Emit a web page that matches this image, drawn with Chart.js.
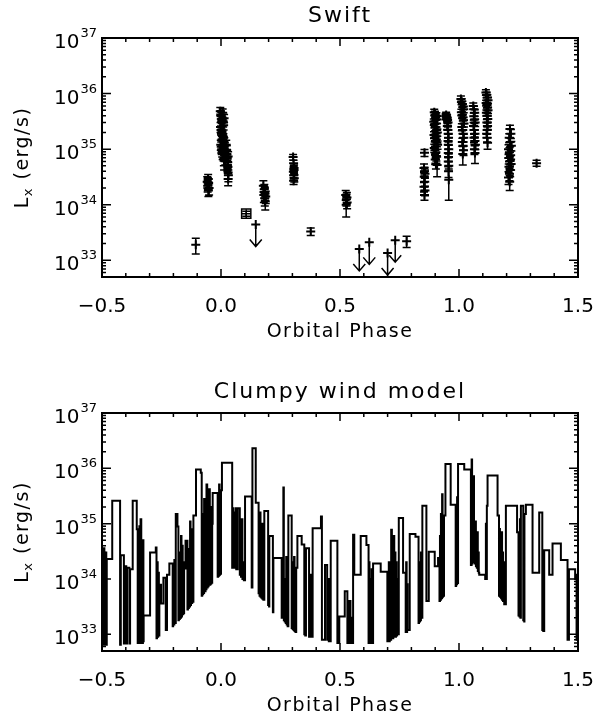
<!DOCTYPE html>
<html>
<head>
<meta charset="utf-8">
<script src="https://cdn.jsdelivr.net/npm/chart.js@4.4.1/dist/chart.umd.min.js"></script>
<style>
html, body { margin: 0; padding: 0; background: #fff; }
#wrap { position: relative; width: 596px; height: 717px; }
.panel { position: absolute; left: 0; width: 596px; }
</style>
</head>
<body>
<div id="wrap">
  <div class="panel" style="top:0;height:345px"><canvas id="swiftChart"></canvas></div>
  <div class="panel" style="top:345px;height:372px"><canvas id="modelChart"></canvas></div>
</div>
<script>
// axis ticks
var phaseTicks = [-0.5, 0.0, 0.5, 1.0, 1.5];
var lxTicks = [1e33, 1e34, 1e35, 1e36, 1e37];

// Swift detections: orbital phase, Lx (erg/s), 1-sigma error
var swiftPhase = [
  -0.106,
  -0.058, -0.056, -0.054, -0.052, -0.050, -0.055, -0.053,
  -0.003, -0.001, 0.001, 0.003, 0.005, 0.007, 0.009, 0.011, 0.013, -0.002, 0.000, 0.002, 0.004, 0.006, 0.008, 0.010,
  0.012, 0.014, -0.001, 0.001, 0.003, 0.005, 0.007, 0.009, 0.011, 0.013, 0.015, 0.014, 0.016, 0.018, 0.012, 0.013,
  0.022, 0.024, 0.025, 0.026, 0.028, 0.030, 0.027, 0.029, 0.030, 0.031, 0.030,
  0.178, 0.182, 0.185, 0.188, 0.184, 0.180, 0.186, 0.183,
  0.303, 0.305, 0.307, 0.304, 0.306, 0.308, 0.305, 0.307,
  0.377,
  0.524, 0.527, 0.530, 0.529, 0.526,
  0.780,
  0.855, 0.853, 0.855, 0.857, 0.854, 0.856, 0.853, 0.857, 0.855,
  0.896, 0.899, 0.902, 0.905, 0.908, 0.894, 0.897, 0.900, 0.903, 0.906, 0.909, 0.895,
  0.898, 0.901, 0.904, 0.907, 0.910, 0.896, 0.899, 0.902, 0.905, 0.900, 0.903, 0.908,
  0.944, 0.946, 0.948, 0.950, 0.952, 0.954, 0.951, 0.953, 0.955, 0.956,
  0.954, 0.955, 0.957, 0.955, 0.956, 0.955, 0.957, 0.956, 0.957,
  1.008, 1.011, 1.014, 1.017, 1.020, 1.010, 1.013, 1.016, 1.019,
  1.021, 1.012, 1.015, 1.018, 1.020, 1.014, 1.017, 1.019, 1.016,
  1.060, 1.063, 1.066, 1.062, 1.065, 1.068, 1.061, 1.064, 1.067, 1.063, 1.066, 1.069, 1.065, 1.067,
  1.113, 1.116, 1.119, 1.122, 1.114, 1.117, 1.120, 1.122, 1.115, 1.118, 1.121, 1.117, 1.120, 1.119, 1.116, 1.118, 1.120,
  1.214, 1.218, 1.211, 1.215, 1.220, 1.208, 1.212, 1.217, 1.209, 1.214, 1.219, 1.210, 1.215, 1.212, 1.208, 1.213,
  1.326
];
var swiftLx = [
  1.9e33,
  2.6e34, 2.2e34, 2.9e34, 2.4e34, 2.0e34, 2.5e34, 1.8e34,
  4.8e35, 4.2e35, 3.9e35, 3.5e35, 3.2e35, 4.5e35, 3.0e35, 2.7e35, 3.6e35, 2.5e35, 2.2e35, 1.9e35, 2.1e35, 1.7e35, 1.5e35, 1.6e35,
  1.4e35, 1.3e35, 1.2e35, 1.1e35, 1.0e35, 9.2e34, 8.5e34, 1.2e35, 1.0e35, 9.0e34, 7.8e34, 1.1e35, 8.2e34, 7.0e34, 6.8e34, 6.2e34,
  1.2e35, 9.5e34, 8.0e34, 6.8e34, 5.8e34, 7.4e34, 5.2e34, 4.8e34, 3.8e34, 3.4e34, 2.9e34,
  2.2e34, 1.9e34, 1.6e34, 1.4e34, 1.3e34, 1.5e34, 1.15e34, 1.7e34,
  7.2e34, 5.6e34, 4.6e34, 3.9e34, 3.4e34, 3.0e34, 2.7e34, 4.2e34,
  3.3e33,
  1.5e34, 1.25e34, 1.1e34, 1.35e34, 1.0e34,
  2.2e33,
  8.6e34, 4.6e34, 4.0e34, 3.6e34, 3.2e34, 2.6e34, 2.1e34, 1.8e34, 1.5e34,
  4.6e35, 4.2e35, 3.8e35, 4.0e35, 3.4e35, 3.1e35, 2.8e35, 2.5e35, 2.9e35, 2.2e35, 2.0e35, 1.8e35,
  1.6e35, 1.4e35, 1.7e35, 1.3e35, 1.2e35, 1.05e35, 9.5e34, 8.5e34, 7.5e34, 6.5e34, 5.5e34, 5.2e34,
  3.9e35, 4.1e35, 3.8e35, 3.6e35, 3.3e35, 3.0e35, 2.6e35, 2.2e35, 1.9e35, 1.6e35,
  1.4e35, 1.2e35, 1.0e35, 8.5e34, 7.2e34, 6.0e34, 5.0e34, 4.0e34, 2.8e34,
  8.0e35, 7.2e35, 6.5e35, 5.8e35, 5.2e35, 4.6e35, 4.1e35, 3.7e35, 3.3e35,
  2.9e35, 2.5e35, 2.2e35, 1.9e35, 1.6e35, 1.35e35, 1.15e35, 9.5e34, 8.2e34,
  6.0e35, 5.2e35, 4.5e35, 3.9e35, 3.4e35, 3.0e35, 2.6e35, 2.2e35, 1.9e35, 1.6e35, 1.4e35, 1.2e35, 1.0e35, 8.5e34,
  1.05e36, 9.5e35, 8.5e35, 7.6e35, 6.8e35, 6.2e35, 5.6e35, 5.0e35, 4.5e35, 4.0e35, 3.5e35, 3.0e35, 2.6e35, 2.2e35, 1.9e35, 1.6e35, 1.3e35,
  2.3e35, 1.9e35, 1.6e35, 1.35e35, 1.15e35, 1.0e35, 8.8e34, 7.8e34, 6.9e34, 6.1e34, 5.4e34, 4.8e34, 4.2e34, 3.6e34, 3.1e34, 2.6e34,
  5.6e34
];
var swiftErr = [
  0.6e33,
  0.6e34, 0.5e34, 0.6e34, 0.5e34, 0.5e34, 0.6e34, 0.4e34,
  0.8e35, 0.7e35, 0.7e35, 0.6e35, 0.6e35, 0.8e35, 0.5e35, 0.5e35, 0.6e35, 0.5e35, 0.4e35, 0.4e35, 0.4e35, 0.3e35, 0.3e35, 0.3e35,
  0.3e35, 0.3e35, 0.25e35, 0.25e35, 0.2e35, 0.2e35, 0.2e35, 0.25e35, 0.2e35, 0.2e35, 0.18e35, 0.22e35, 0.2e35, 0.18e35, 0.18e35, 0.2e35,
  0.25e35, 0.2e35, 0.18e35, 0.15e35, 0.13e35, 0.16e35, 0.12e35, 0.11e35, 0.09e35, 0.08e35, 0.07e35,
  0.5e34, 0.4e34, 0.4e34, 0.35e34, 0.35e34, 0.4e34, 0.35e34, 0.4e34,
  0.8e34, 0.7e34, 0.6e34, 0.5e34, 0.5e34, 0.45e34, 0.4e34, 0.5e34,
  0.5e33,
  0.3e34, 0.3e34, 0.25e34, 0.3e34, 0.4e34,
  0.5e33,
  1.2e34, 0.8e34, 0.7e34, 0.6e34, 0.6e34, 0.5e34, 0.4e34, 0.35e34, 0.3e34,
  0.6e35, 0.6e35, 0.5e35, 0.5e35, 0.5e35, 0.4e35, 0.4e35, 0.35e35, 0.4e35, 0.3e35, 0.3e35, 0.25e35,
  0.25e35, 0.2e35, 0.25e35, 0.2e35, 0.2e35, 0.18e35, 0.16e35, 0.15e35, 0.14e35, 0.12e35, 0.11e35, 0.2e35,
  0.5e35, 0.5e35, 0.5e35, 0.5e35, 0.45e35, 0.4e35, 0.35e35, 0.3e35, 0.3e35, 0.25e35,
  0.2e35, 0.2e35, 0.18e35, 0.15e35, 0.13e35, 0.12e35, 0.1e35, 0.09e35, 1.6e34,
  1.0e35, 0.9e35, 0.8e35, 0.7e35, 0.7e35, 0.6e35, 0.55e35, 0.5e35, 0.45e35,
  0.4e35, 0.35e35, 0.3e35, 0.3e35, 0.25e35, 0.22e35, 0.2e35, 0.18e35, 0.3e35,
  0.8e35, 0.7e35, 0.6e35, 0.55e35, 0.5e35, 0.45e35, 0.4e35, 0.35e35, 0.3e35, 0.3e35, 0.25e35, 0.22e35, 0.2e35, 0.3e35,
  1.2e35, 1.1e35, 1.0e35, 0.9e35, 0.8e35, 0.7e35, 0.7e35, 0.6e35, 0.55e35, 0.5e35, 0.45e35, 0.4e35, 0.35e35, 0.3e35, 0.3e35, 0.25e35, 0.3e35,
  0.4e35, 0.35e35, 0.3e35, 0.25e35, 0.22e35, 0.2e35, 0.18e35, 0.16e35, 0.15e35, 0.13e35, 0.12e35, 0.11e35, 0.1e35, 0.09e35, 0.08e35, 0.08e35,
  0.7e34
];

// Swift upper limits
var limitPhase = [0.146, 0.581, 0.623, 0.700, 0.732];
var limitLx = [4.4e33, 1.6e33, 2.1e33, 1.35e33, 2.3e33];

// the single boxed point
var boxPhase = [0.106];
var boxLx = [6.9e33];
var boxErr = [0.7e33];

// clumpy wind model light curve (each value holds until the next phase)
var modelPhase = [
  -0.500, -0.498, -0.496, -0.494, -0.492, -0.490, -0.488, -0.486, -0.484, -0.482,
  -0.480, -0.457, -0.424, -0.421, -0.408, -0.405, -0.398, -0.395, -0.385, -0.382,
  -0.371, -0.354, -0.350, -0.348, -0.345, -0.343, -0.340, -0.338, -0.335, -0.333,
  -0.330, -0.328, -0.326, -0.325, -0.298, -0.274, -0.271, -0.269, -0.266, -0.264,
  -0.261, -0.259, -0.252, -0.242, -0.232, -0.230, -0.228, -0.227, -0.217, -0.203,
  -0.201, -0.198, -0.196, -0.193, -0.190, -0.183, -0.179, -0.177, -0.175, -0.173,
  -0.171, -0.168, -0.166, -0.164, -0.161, -0.159, -0.157, -0.155, -0.149, -0.141,
  -0.139, -0.137, -0.135, -0.132, -0.130, -0.128, -0.126, -0.123, -0.121, -0.119,
  -0.116, -0.105, -0.085, -0.081, -0.079, -0.077, -0.075, -0.073, -0.071, -0.067,
  -0.065, -0.063, -0.061, -0.058, -0.056, -0.054, -0.052, -0.047, -0.045, -0.043,
  -0.041, -0.039, -0.037, -0.035, -0.014, -0.012, -0.010, -0.008, -0.006, -0.004,
  -0.002, 0.000, 0.004, 0.047, 0.049, 0.051, 0.053, 0.055, 0.057, 0.059,
  0.061, 0.064, 0.066, 0.068, 0.070, 0.079, 0.082, 0.084, 0.087, 0.090,
  0.093, 0.096, 0.101, 0.129, 0.132, 0.146, 0.158, 0.160, 0.162, 0.164,
  0.166, 0.168, 0.170, 0.172, 0.174, 0.176, 0.178, 0.182, 0.198, 0.200,
  0.202, 0.203, 0.218, 0.220, 0.255, 0.260, 0.262, 0.264, 0.266, 0.268,
  0.270, 0.272, 0.274, 0.276, 0.278, 0.280, 0.283, 0.297, 0.299, 0.301,
  0.303, 0.305, 0.307, 0.309, 0.311, 0.313, 0.316, 0.321, 0.339, 0.350,
  0.352, 0.354, 0.357, 0.370, 0.374, 0.379, 0.385, 0.420, 0.424, 0.437,
  0.446, 0.450, 0.453, 0.461, 0.489, 0.497, 0.520, 0.531, 0.533, 0.535,
  0.537, 0.544, 0.546, 0.549, 0.555, 0.560, 0.587, 0.611, 0.620, 0.622,
  0.624, 0.627, 0.630, 0.633, 0.636, 0.639, 0.671, 0.699, 0.701, 0.703,
  0.705, 0.707, 0.709, 0.711, 0.715, 0.718, 0.720, 0.722, 0.724, 0.728,
  0.730, 0.733, 0.735, 0.738, 0.740, 0.742, 0.747, 0.765, 0.776, 0.778,
  0.780, 0.782, 0.784, 0.787, 0.793, 0.817, 0.830, 0.832, 0.834, 0.836,
  0.838, 0.840, 0.843, 0.846, 0.863, 0.873, 0.898, 0.912, 0.918, 0.920,
  0.922, 0.924, 0.926, 0.929, 0.931, 0.933, 0.935, 0.937, 0.943, 0.965,
  0.986, 0.988, 0.990, 0.992, 0.994, 0.996, 1.022, 1.050, 1.053, 1.055,
  1.057, 1.059, 1.061, 1.063, 1.065, 1.067, 1.069, 1.071, 1.073, 1.075,
  1.077, 1.079, 1.081, 1.083, 1.085, 1.110, 1.113, 1.115, 1.117, 1.120,
  1.162, 1.168, 1.170, 1.172, 1.175, 1.177, 1.179, 1.181, 1.183, 1.185,
  1.187, 1.190, 1.197, 1.244, 1.250, 1.252, 1.254, 1.256, 1.258, 1.260,
  1.270, 1.272, 1.274, 1.275, 1.281, 1.309, 1.337, 1.350, 1.352, 1.354,
  1.358, 1.379, 1.393, 1.428, 1.456, 1.458, 1.460, 1.462, 1.470, 1.488,
  1.494, 1.496, 1.500
];
var modelLx = [
  3.5e34, 6.5e32, 2.5e34, 6.5e32, 3.6e34, 6.5e32, 1.8e34, 6.5e32, 3.0e34, 6.5e32,
  2.3e34, 2.6e35, 6.5e32, 2.7e34, 6.8e32, 1.7e34, 6.8e32, 1.6e34, 6.8e32, 1.5e34,
  2.6e35, 7.9e34, 7.0e32, 4.0e34, 7.0e32, 9.0e34, 7.0e32, 1.2e35, 7.0e32, 2.0e34,
  7.0e32, 5.0e34, 7.5e32, 2.2e33, 3.0e34, 3.7e34, 8.5e32, 2.0e34, 9.0e32, 1.3e34,
  9.5e32, 7.9e33, 3.6e33, 1.05e34, 1.2e33, 8.0e33, 1.2e33, 1.2e34, 1.9e34, 1.4e33,
  1.3e34, 1.5e33, 2.2e34, 1.6e33, 1.5e35, 8.9e34, 1.8e33, 3.0e34, 1.9e33, 2.5e34,
  2.0e33, 6.0e34, 2.1e33, 4.0e34, 2.3e33, 2.0e34, 2.4e33, 1.55e34, 4.9e34, 2.8e33,
  3.5e34, 3.0e33, 2.0e34, 3.2e33, 1.1e35, 3.4e33, 7.9e34, 3.7e33, 4.0e34, 3.9e33,
  1.4e35, 9.5e35, 8.3e35, 5.0e33, 1.5e35, 5.3e33, 6.0e34, 5.6e33, 2.8e35, 6.0e33,
  1.6e35, 6.5e33, 5.1e35, 7.0e33, 2.5e35, 7.4e33, 4.2e35, 7.9e33, 1.2e35, 8.2e33,
  2.0e35, 8.6e33, 1.0e35, 3.6e35, 1.1e34, 2.5e35, 1.15e34, 5.1e35, 1.2e34, 3.0e35,
  1.25e34, 4.0e35, 1.26e36, 1.6e34, 1.9e35, 1.6e34, 1.2e35, 1.6e34, 1.6e35, 1.6e34,
  1.9e35, 1.5e34, 8.0e34, 1.5e34, 1.9e35, 1.2e34, 4.0e34, 1.1e34, 1.2e35, 1.0e34,
  2.0e34, 9.5e33, 3.1e35, 7.0e33, 2.3e36, 2.4e35, 5.5e33, 6.0e34, 5.0e33, 1.6e35,
  4.8e33, 2.0e34, 4.6e33, 1.0e35, 4.4e33, 3.0e34, 4.2e33, 1.7e35, 3.4e33, 2.0e34,
  3.2e33, 6.0e34, 2.5e33, 2.4e34, 2.0e33, 8.0e33, 4.5e35, 1.8e33, 1.0e34, 1.7e33,
  5.0e33, 1.6e33, 2.5e34, 1.5e33, 1.2e34, 1.4e33, 1.4e35, 1.3e33, 2.0e34, 1.25e33,
  1.0e34, 1.2e33, 2.5e34, 1.15e33, 1.5e34, 1.1e33, 1.6e34, 6.0e34, 4.2e34, 1.0e33,
  2.0e34, 9.5e32, 3.6e34, 9.0e32, 1.2e34, 9.0e32, 8.3e34, 1.35e35, 8.0e32, 1.8e34,
  8.0e32, 1.0e34, 7.5e32, 4.9e34, 7.0e32, 2.1e33, 6.0e33, 7.0e32, 3.0e33, 7.0e32,
  4.0e33, 7.0e32, 2.0e33, 7.0e32, 6.3e34, 1.2e34, 6.0e34, 4.1e34, 7.0e32, 2.0e34,
  7.0e32, 1.0e34, 7.0e32, 1.5e34, 7.0e32, 1.9e34, 1.35e34, 7.5e32, 5.0e33, 7.5e32,
  2.0e34, 7.5e32, 1.0e34, 8.0e32, 7.8e34, 8.5e32, 4.0e34, 8.5e32, 6.0e34, 9.0e32,
  3.0e34, 9.0e32, 2.0e34, 9.5e32, 1.0e34, 1.0e33, 1.26e35, 1.3e34, 1.1e33, 2.0e34,
  1.1e33, 8.0e33, 1.2e33, 1.2e33, 6.5e34, 5.8e34, 1.6e33, 2.0e34, 1.7e33, 1.0e34,
  1.8e33, 3.0e34, 2.0e33, 2.1e35, 4.0e33, 3.1e34, 1.7e34, 2.4e34, 4.0e33, 6.0e34,
  4.2e33, 1.5e35, 4.5e33, 3.4e35, 4.8e33, 1.0e35, 5.0e33, 1.4e35, 1.2e36, 2.2e35,
  7.5e33, 1.0e35, 8.0e33, 3.0e35, 8.5e33, 1.2e36, 9.5e35, 1.8e34, 1.45e36, 1.9e34,
  2.0e35, 2.0e34, 7.2e35, 2.0e34, 1.0e35, 1.9e34, 1.1e35, 1.7e34, 6.0e34, 1.6e34,
  7.0e34, 1.4e34, 3.0e34, 1.3e34, 1.2e34, 1.0e34, 1.0e35, 1.0e34, 2.1e35, 7.4e35,
  1.4e35, 5.0e33, 8.0e34, 4.8e33, 5.0e34, 4.5e33, 7.0e34, 4.2e33, 3.0e34, 4.0e33,
  2.0e34, 3.5e33, 2.1e35, 7.0e34, 2.2e33, 4.0e34, 2.1e33, 1.2e35, 2.0e33, 2.1e35,
  1.8e33, 6.0e34, 1.7e33, 1.5e35, 2.2e35, 1.3e34, 1.6e35, 1.2e33, 3.0e34, 1.15e33,
  3.3e34, 1.2e34, 4.4e34, 2.2e34, 8.0e32, 1.0e34, 8.0e32, 1.5e34, 1.5e34, 1.0e34,
  8.0e32, 1.2e34, 1.2e34
];

var FONT = '"DejaVu Sans", sans-serif';

function phaseLabel(v) {
    var s = Math.abs(v).toFixed(1);
    return v < 0 ? '\u2212' + s : s;
}

function points(xs, ys) {
    return xs.map(function (x, i) { return { x: x, y: ys[i] }; });
}

// IDL style frame: inward ticks on all sides, labels, titles
var idlAxes = {
    id: 'idlAxes',
    afterDraw: function (chart, args, opts) {
        var ctx = chart.ctx;
        var a = chart.chartArea;
        var xs = chart.scales.x;
        var ys = chart.scales.y;
        ctx.save();
        ctx.strokeStyle = '#000';
        ctx.fillStyle = '#000';

        ctx.lineWidth = 1.5;
        ctx.beginPath();
        for (var i = -5; i <= 15; i++) {
            var px = xs.getPixelForValue(i / 10);
            var len = (i % 5 === 0) ? 8 : 4;
            ctx.moveTo(px, a.bottom); ctx.lineTo(px, a.bottom - len);
            ctx.moveTo(px, a.top); ctx.lineTo(px, a.top + len);
        }
        lxTicks.forEach(function (dec) {
            for (var m = 1; m <= 9; m++) {
                var v = dec / 10 * m;
                if (v < ys.min || v > ys.max) continue;
                var py = ys.getPixelForValue(v);
                var l = m === 1 ? 9 : 4;
                ctx.moveTo(a.left, py); ctx.lineTo(a.left + l, py);
                ctx.moveTo(a.right, py); ctx.lineTo(a.right - l, py);
            }
        });
        var py37 = ys.getPixelForValue(1e37);
        ctx.moveTo(a.left, py37); ctx.lineTo(a.left + 9, py37);
        ctx.moveTo(a.right, py37); ctx.lineTo(a.right - 9, py37);
        ctx.stroke();

        ctx.lineWidth = 2;
        ctx.strokeRect(a.left, a.top, a.right - a.left, a.bottom - a.top);

        // x tick labels
        ctx.font = '20px ' + FONT;
        ctx.textAlign = 'center';
        ctx.textBaseline = 'alphabetic';
        phaseTicks.forEach(function (v) {
            ctx.fillText(phaseLabel(v), xs.getPixelForValue(v), a.bottom + 35);
        });

        // y tick labels 10^n
        lxTicks.forEach(function (v) {
            var py = ys.getPixelForValue(v);
            var ex = String(Math.round(Math.log10(v)));
            ctx.textAlign = 'right';
            ctx.font = '13px ' + FONT;
            var right = a.left - 5;
            ctx.fillText(ex, right, py - 1);
            var w = ctx.measureText(ex).width;
            ctx.font = '20px ' + FONT;
            ctx.fillText('10', right - w - 1, py + 10);
        });

        // x title
        ctx.textAlign = 'center';
        ctx.font = '19px ' + FONT;
        ctx.letterSpacing = '1.5px';
        ctx.fillText('Orbital Phase', (a.left + a.right) / 2, a.bottom + 60);

        // panel title
        ctx.font = '22px ' + FONT;
        ctx.letterSpacing = '2px';
        ctx.fillText(opts.title, (a.left + a.right) / 2, a.top - opts.titleGap);

        // y title  L_x (erg/s)
        ctx.save();
        ctx.translate(28, (a.top + a.bottom) / 2);
        ctx.rotate(-Math.PI / 2);
        ctx.letterSpacing = '1.5px';
        var t1 = 'L', t3 = ' (erg/s)';
        ctx.font = '13px ' + FONT;
        var wx = ctx.measureText('x').width;
        ctx.font = '19px ' + FONT;
        var w1 = ctx.measureText(t1).width, w3 = ctx.measureText(t3).width;
        var x0 = -(w1 + wx + w3) / 2;
        ctx.textAlign = 'left';
        ctx.fillText(t1, x0, 0);
        ctx.font = '13px ' + FONT;
        ctx.fillText('x', x0 + w1, 4);
        ctx.font = '19px ' + FONT;
        ctx.fillText(t3, x0 + w1 + wx, 0);
        ctx.restore();

        ctx.restore();
    }
};

// error bars and upper-limit arrows for the Swift panel
var swiftErrors = {
    id: 'swiftErrors',
    beforeDatasetsDraw: function (chart) {
        var ctx = chart.ctx;
        var xs = chart.scales.x;
        var ys = chart.scales.y;
        ctx.save();
        ctx.strokeStyle = '#000';
        ctx.lineWidth = 1.5;
        ctx.beginPath();
        function bar(ph, v, e) {
            var px = xs.getPixelForValue(ph);
            var lo = ys.getPixelForValue(v - e);
            var hi = ys.getPixelForValue(v + e);
            ctx.moveTo(px, lo); ctx.lineTo(px, hi);
            ctx.moveTo(px - 4, lo); ctx.lineTo(px + 4, lo);
            ctx.moveTo(px - 4, hi); ctx.lineTo(px + 4, hi);
        }
        for (var i = 0; i < swiftPhase.length; i++) bar(swiftPhase[i], swiftLx[i], swiftErr[i]);
        for (var j = 0; j < boxPhase.length; j++) bar(boxPhase[j], boxLx[j], boxErr[j]);
        for (var k = 0; k < limitPhase.length; k++) {
            var px = xs.getPixelForValue(limitPhase[k]);
            var py = ys.getPixelForValue(limitLx[k]);
            ctx.moveTo(px, py); ctx.lineTo(px, py + 22);
            ctx.moveTo(px - 6, py + 15); ctx.lineTo(px, py + 22); ctx.lineTo(px + 6, py + 15);
        }
        ctx.stroke();
        ctx.restore();
    }
};

var xScale = { type: 'linear', min: -0.5, max: 1.5, display: false };
var yScale = { type: 'logarithmic', min: 5e32, max: 1e37, display: false };

new Chart('swiftChart', {
    type: 'scatter',
    data: {
        datasets: [{
            data: points(swiftPhase, swiftLx),
            pointStyle: 'cross', pointRadius: 4.5, borderColor: '#000', borderWidth: 2
        }, {
            data: points(limitPhase, limitLx),
            pointStyle: 'cross', pointRadius: 4.5, borderColor: '#000', borderWidth: 2
        }, {
            data: points(boxPhase, boxLx),
            pointStyle: 'rect', pointRadius: 6.5, borderColor: '#000', backgroundColor: 'rgba(0,0,0,0)', borderWidth: 1.5
        }, {
            data: points(boxPhase, boxLx),
            pointStyle: 'cross', pointRadius: 4.5, borderColor: '#000', borderWidth: 1.5
        }]
    },
    options: {
        responsive: true,
        maintainAspectRatio: false,
        animation: false,
        events: [],
        layout: { padding: { left: 102, right: 18, top: 38, bottom: 68 } },
        scales: { x: xScale, y: yScale },
        plugins: {
            legend: { display: false },
            tooltip: { enabled: false },
            idlAxes: { title: 'Swift', titleGap: 16 }
        }
    },
    plugins: [swiftErrors, idlAxes]
});

new Chart('modelChart', {
    type: 'line',
    data: {
        datasets: [{
            data: points(modelPhase, modelLx),
            stepped: 'before',
            borderColor: '#000',
            borderWidth: 2,
            pointRadius: 0,
            fill: false,
            borderJoinStyle: 'miter'
        }]
    },
    options: {
        responsive: true,
        maintainAspectRatio: false,
        animation: false,
        events: [],
        layout: { padding: { left: 102, right: 18, top: 68, bottom: 66 } },
        scales: { x: xScale, y: yScale },
        plugins: {
            legend: { display: false },
            tooltip: { enabled: false },
            idlAxes: { title: 'Clumpy wind model', titleGap: 15 }
        }
    },
    plugins: [idlAxes]
});
</script>
</body>
</html>
